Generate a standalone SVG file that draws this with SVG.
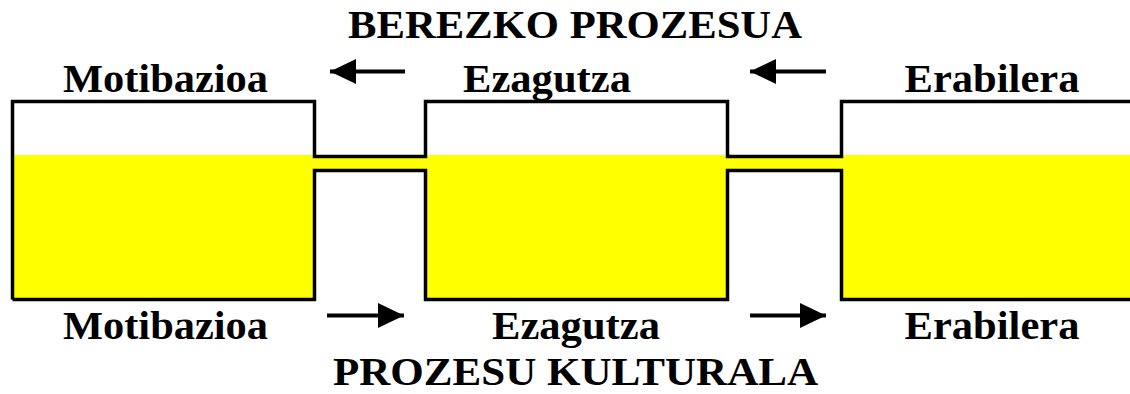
<svg xmlns="http://www.w3.org/2000/svg" width="1130" height="394" viewBox="0 0 1130 394">
<style>
text{font-family:"Liberation Serif","Times New Roman",serif;font-weight:bold;fill:#000;text-anchor:middle}
.t{font-size:40px}
.o{fill:none;stroke:#000;stroke-width:3.5;stroke-linejoin:miter}
.ln{stroke:#000;stroke-width:4}
</style>
<defs>
<marker id="ah" markerWidth="26" markerHeight="25" refX="26" refY="12.5" orient="auto" markerUnits="userSpaceOnUse">
<path d="M0,0 L26,12.5 L0,25 Z" fill="#000"/>
</marker>
</defs>
<rect width="1130" height="394" fill="#fff"/>
<g id="vessels">
<rect x="12" y="155" width="1118" height="145" fill="#ffff00"/>
<rect x="316" y="171" width="108" height="131" fill="#fff"/>
<rect x="729" y="171" width="111" height="131" fill="#fff"/>
<path class="o" d="M12.5,299.5 V101.5 H314.5 V156.5 H425.5 V101.5 H727.5 V156.5 H841.5 V101.5 H1132"/>
<path class="o" d="M12.5,299.5 H314.5 V170.5 H425.5 V299.5 H727.5 V170.5 H841.5 V299.5 H1132"/>
</g>
<g id="connectors">
<line class="ln" x1="405" y1="71.5" x2="330" y2="71.5" marker-end="url(#ah)"/>
<line class="ln" x1="826" y1="71.5" x2="750" y2="71.5" marker-end="url(#ah)"/>
<line class="ln" x1="327" y1="315.5" x2="404" y2="315.5" marker-end="url(#ah)"/>
<line class="ln" x1="750" y1="315.5" x2="826" y2="315.5" marker-end="url(#ah)"/>
</g>
<g id="title-top"><text class="t" x="575" y="38" textLength="454" lengthAdjust="spacingAndGlyphs">BEREZKO PROZESUA</text></g>
<g id="top-motibazioa"><text class="t" x="165.5" y="92" textLength="205" lengthAdjust="spacingAndGlyphs">Motibazioa</text></g>
<g id="top-ezagutza"><text class="t" x="547" y="92" textLength="168" lengthAdjust="spacingAndGlyphs">Ezagutza</text></g>
<g id="top-erabilera"><text class="t" x="992" y="92" textLength="175" lengthAdjust="spacingAndGlyphs">Erabilera</text></g>
<g id="bottom-motibazioa"><text class="t" x="165.5" y="339" textLength="205" lengthAdjust="spacingAndGlyphs">Motibazioa</text></g>
<g id="bottom-ezagutza"><text class="t" x="576" y="339" textLength="168" lengthAdjust="spacingAndGlyphs">Ezagutza</text></g>
<g id="bottom-erabilera"><text class="t" x="992" y="339" textLength="175" lengthAdjust="spacingAndGlyphs">Erabilera</text></g>
<g id="title-bottom"><text class="t" x="575.5" y="385" textLength="485" lengthAdjust="spacingAndGlyphs">PROZESU KULTURALA</text></g>
</svg>
